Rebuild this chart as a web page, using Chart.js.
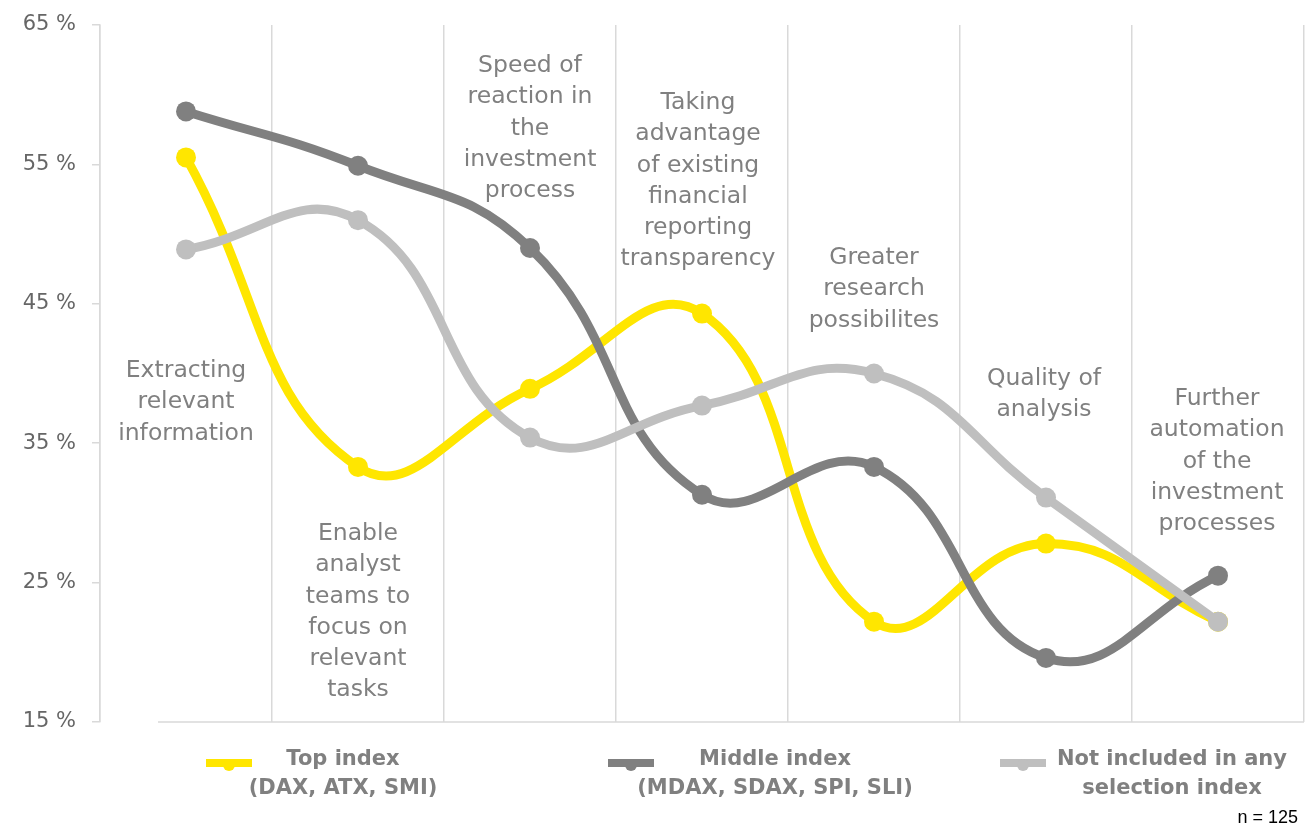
<!DOCTYPE html>
<html>
<head>
<meta charset="utf-8">
<script src="https://cdn.jsdelivr.net/npm/chart.js@4/dist/chart.umd.min.js"></script>
<style>
    html, body { margin: 0; padding: 0; background: #fff; }
    #wrap { width: 1314px; height: 828px; position: relative; }
</style>
</head>
<body>
<div id="wrap"><canvas id="chart" width="1314" height="828"></canvas></div>
<script>
// --- Daten ---
const categories = [
    ["Extracting", "relevant", "information"],
    ["Enable", "analyst", "teams to", "focus on", "relevant", "tasks"],
    ["Speed of", "reaction in", "the", "investment", "process"],
    ["Taking", "advantage", "of existing", "financial", "reporting", "transparency"],
    ["Greater", "research", "possibilites"],
    ["Quality of", "analysis"],
    ["Further", "automation", "of the", "investment", "processes"]
];
const topIndex = [55.5, 33.3, 38.9, 44.3, 22.2, 27.8, 22.2];
const middleIndex = [58.8, 54.9, 49.0, 31.3, 33.3, 19.6, 25.5];
const notIncluded = [48.9, 51.0, 35.4, 37.7, 40.0, 31.1, 22.2];
const seriesNames = [
    ["Top index", "(DAX, ATX, SMI)"],
    ["Middle index", "(MDAX, SDAX, SPI, SLI)"],
    ["Not included in any", "selection index"]
];
const yTicks = [15, 25, 35, 45, 55, 65];
const sampleNote = "n = 125";

const colors = ["#ffe600", "#808080", "#bfbfbf"];
const textGray = "#808080";

// --- Beschriftungen im Diagramm ---
const labelPlugin = {
    id: "catLabels",
    afterDraw(chart, args, opts) {
        const ctx = chart.ctx;
        const x = chart.scales.x;
        const area = chart.chartArea;
        ctx.save();

        // Grundlinie (beginnt etwas rechts der y-Achse)
        ctx.strokeStyle = "#d9d9d9";
        ctx.lineWidth = 1.5;
        ctx.beginPath();
        ctx.moveTo(area.left + 58, area.bottom);
        ctx.lineTo(area.right, area.bottom);
        ctx.stroke();

        ctx.font = "23.5px 'DejaVu Sans'";
        ctx.fillStyle = textGray;
        ctx.textAlign = "center";
        ctx.textBaseline = "middle";
        categories.forEach((lines, i) => {
            const cx = x.getPixelForValue(i) + (opts.dx[i] || 0);
            lines.forEach((line, j) => {
                ctx.fillText(line, cx, opts.top[i] + j * 31.2);
            });
        });

        // Legende
        ctx.font = "bold 21px 'DejaVu Sans'";
        seriesNames.forEach((lines, i) => {
            const lx = opts.legendX[i];
            ctx.strokeStyle = colors[i];
            ctx.lineWidth = 8;
            ctx.lineCap = "butt";
            ctx.beginPath();
            ctx.moveTo(lx, 763);
            ctx.lineTo(lx + 46, 763);
            ctx.stroke();
            ctx.fillStyle = colors[i];
            ctx.beginPath();
            ctx.arc(lx + 23, 765, 6, 0, Math.PI * 2);
            ctx.fill();
            ctx.fillStyle = textGray;
            lines.forEach((line, j) => {
                ctx.fillText(line, opts.legendText[i], 760 + j * 29);
            });
        });

        ctx.font = "18px 'Liberation Sans Narrow', 'Liberation Sans'";
        ctx.fillStyle = "#000";
        ctx.textAlign = "right";
        ctx.fillText(sampleNote, 1298, 818);
        ctx.restore();
    }
};

Chart.defaults.font.family = "'DejaVu Sans', sans-serif";

new Chart(document.getElementById("chart").getContext("2d"), {
    type: "line",
    data: {
        labels: categories.map(c => c.join(" ")),
        datasets: [topIndex, middleIndex, notIncluded].map((vals, i) => ({
            label: seriesNames[i].join(" "),
            data: vals,
            borderColor: colors[i],
            backgroundColor: colors[i],
            pointBackgroundColor: colors[i],
            pointBorderWidth: 0,
            pointRadius: 10,
            borderWidth: 9,
            tension: 0.45,
            fill: false,
            order: 3 - i
        }))
    },
    options: {
        responsive: false,
        animation: false,
        layout: { padding: { top: 25, right: 9, bottom: 106, left: 0 } },
        plugins: {
            legend: { display: false },
            tooltip: { enabled: false },
            catLabels: {
                top: [371, 534, 66, 103, 258, 379, 399],
                dx: [0, 0, 0, -4, 0, -2, -1],
                legendX: [206, 608, 1000],
                legendText: [343, 775, 1172]
            }
        },
        scales: {
            x: {
                offset: true,
                grid: { offset: true, color: "#d9d9d9", lineWidth: 1.5, drawTicks: false },
                border: { display: false },
                ticks: { display: false },
                afterFit(scale) { scale.height = 0; }
            },
            y: {
                min: 15,
                max: 65,
                afterFit(scale) {
                    scale.width = 100;
                    scale.paddingTop = 0;
                    scale.paddingBottom = 0;
                },
                afterBuildTicks(scale) { scale.ticks = yTicks.map(v => ({ value: v })); },
                grid: { drawOnChartArea: false, drawTicks: true, tickLength: 8, color: "#d9d9d9", lineWidth: 1.5 },
                border: { color: "#d9d9d9", width: 1.5 },
                ticks: {
                    color: "#666",
                    font: { size: 21 },
                    padding: 16,
                    callback: v => v + " %"
                }
            }
        }
    },
    plugins: [labelPlugin]
});
</script>
</body>
</html>
